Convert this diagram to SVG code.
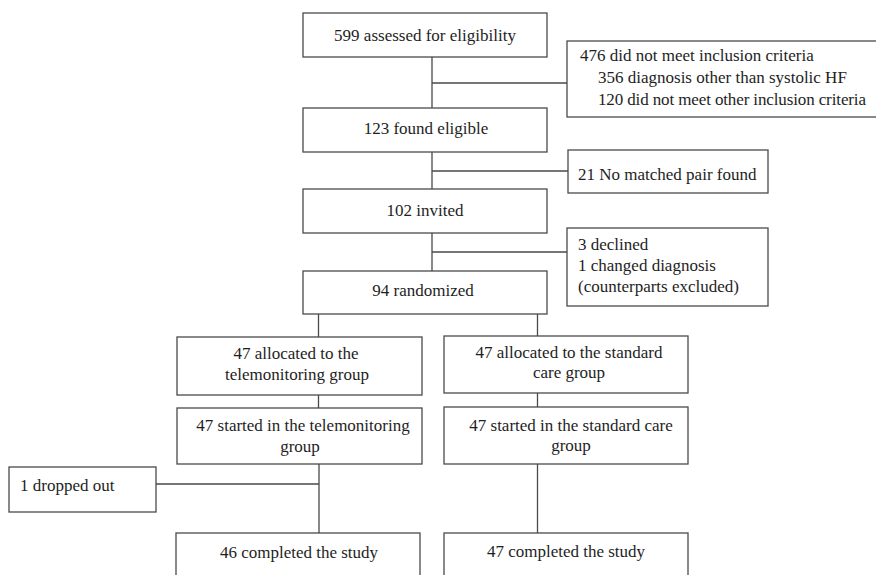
<svg xmlns="http://www.w3.org/2000/svg" width="876" height="575" viewBox="0 0 876 575">
  <style>
    .box { fill: #ffffff; stroke: #4a4a4a; stroke-width: 1.3; }
    .link { fill: none; stroke: #4a4a4a; stroke-width: 1.3; }
    text { font-family: 'Liberation Serif', 'Times New Roman', serif; font-size: 17px; fill: #1e1e1e; }
    .c { text-anchor: middle; }
  </style>
  <rect width="876" height="575" fill="#ffffff"/>

  <!-- connectors -->
  <g id="connectors">
    <path class="link" d="M432 57 V108 M432 83 H567"/>
    <path class="link" d="M432 152 V189 M432 171 H568"/>
    <path class="link" d="M432 233 V271 M432 252 H567"/>
    <path class="link" d="M318.5 314 V337 M537.5 314 V336"/>
    <path class="link" d="M318.5 395 V408 M537.5 393 V407"/>
    <path class="link" d="M319 464 V533 M156 484 H319"/>
    <path class="link" d="M537.5 464 V533"/>
  </g>

  <!-- main column -->
  <g id="assessed">
    <rect class="box" x="303" y="13" width="244" height="44"/>
    <text class="c" x="425" y="41">599 assessed for eligibility</text>
  </g>
  <g id="eligible">
    <rect class="box" x="303" y="108" width="244" height="44"/>
    <text class="c" x="426" y="134">123 found eligible</text>
  </g>
  <g id="invited">
    <rect class="box" x="303" y="189" width="244" height="44"/>
    <text class="c" x="425" y="216">102 invited</text>
  </g>
  <g id="randomized">
    <rect class="box" x="303" y="271" width="244" height="43"/>
    <text class="c" x="423" y="296">94 randomized</text>
  </g>

  <!-- exclusions -->
  <g id="not-included">
    <rect class="box" x="567" y="41" width="320" height="76"/>
    <text x="580" y="61">476 did not meet inclusion criteria</text>
    <text x="598" y="83">356 diagnosis other than systolic HF</text>
    <text x="598" y="105" textLength="268" lengthAdjust="spacing">120 did not meet other inclusion criteria</text>
  </g>
  <g id="no-pair">
    <rect class="box" x="568" y="150" width="200" height="43"/>
    <text x="578" y="180">21 No matched pair found</text>
  </g>
  <g id="declined">
    <rect class="box" x="567" y="228" width="201" height="78"/>
    <text x="578" y="250">3 declined</text>
    <text x="578" y="271">1 changed diagnosis</text>
    <text x="578" y="292">(counterparts excluded)</text>
  </g>

  <!-- telemonitoring arm -->
  <g id="tele-allocated">
    <rect class="box" x="177" y="337" width="245" height="58"/>
    <text class="c" x="296" y="359">47 allocated to the</text>
    <text class="c" x="297" y="380">telemonitoring  group</text>
  </g>
  <g id="tele-started">
    <rect class="box" x="177" y="408" width="245" height="56"/>
    <text class="c" x="303" y="431">47 started in the telemonitoring</text>
    <text class="c" x="300" y="452">group</text>
  </g>
  <g id="dropped">
    <rect class="box" x="9" y="467" width="147" height="45"/>
    <text x="20" y="491">1 dropped out</text>
  </g>
  <g id="tele-completed">
    <rect class="box" x="176" y="533" width="244" height="60"/>
    <text class="c" x="299" y="558">46 completed the study</text>
  </g>

  <!-- standard care arm -->
  <g id="std-allocated">
    <rect class="box" x="444" y="336" width="244" height="57"/>
    <text class="c" x="569" y="358">47 allocated to the standard</text>
    <text class="c" x="569" y="378">care group</text>
  </g>
  <g id="std-started">
    <rect class="box" x="444" y="407" width="244" height="57"/>
    <text class="c" x="571" y="431">47 started in the standard care</text>
    <text class="c" x="571" y="451">group</text>
  </g>
  <g id="std-completed">
    <rect class="box" x="444" y="533" width="244" height="60"/>
    <text class="c" x="566" y="557">47 completed the study</text>
  </g>
</svg>
